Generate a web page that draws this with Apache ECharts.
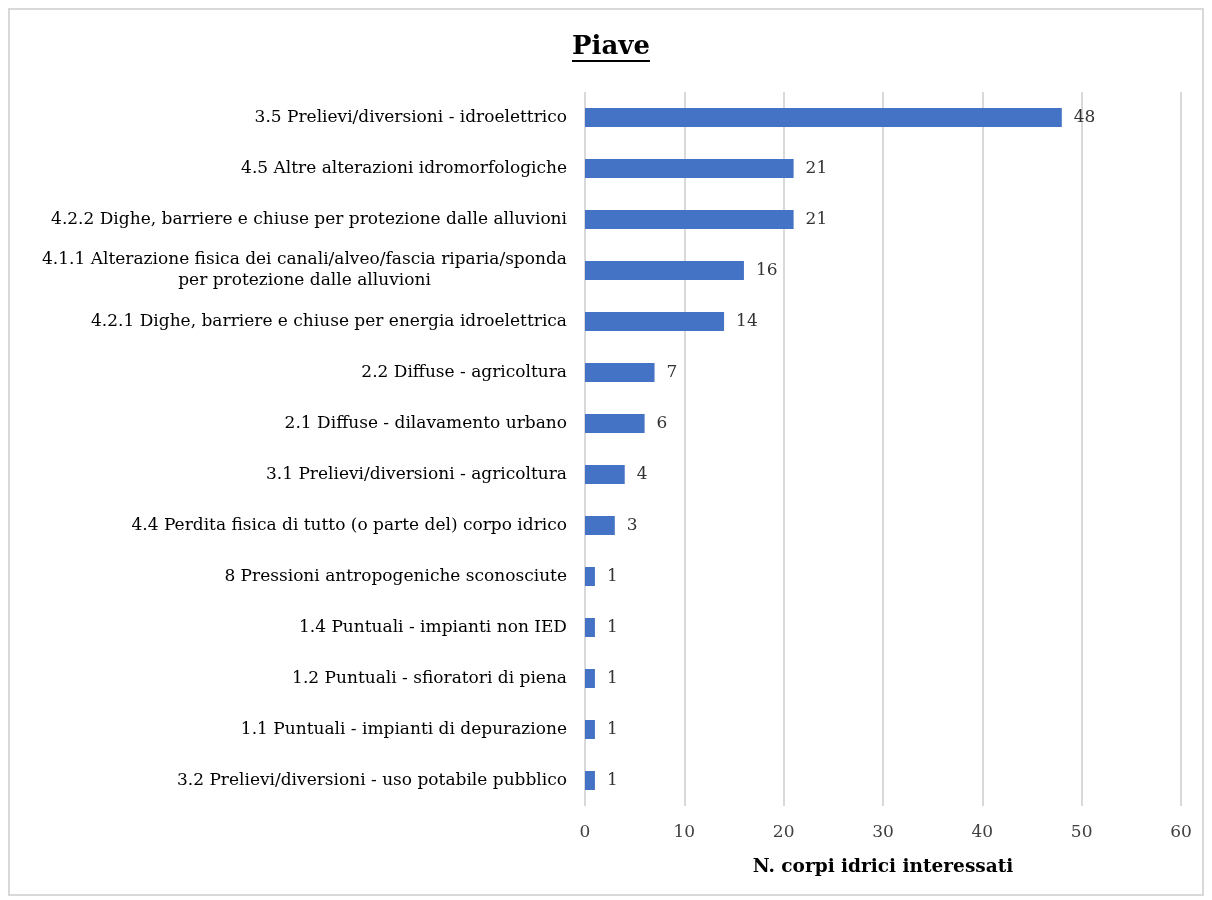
<!DOCTYPE html>
<html>
<head>
<meta charset="utf-8">
<script src="https://cdn.jsdelivr.net/npm/echarts@6/dist/echarts.min.js"></script>
<style>
  html, body { margin: 0; padding: 0; background: #ffffff; }
  #chart { width: 1212px; height: 900px; }
</style>
</head>
<body>
<div id="chart"></div>
<script>
// Pressures on the Piave water bodies (top to bottom as listed)
const categories = [
  '3.5 Prelievi/diversioni - idroelettrico',
  '4.5 Altre alterazioni idromorfologiche',
  '4.2.2 Dighe, barriere e chiuse per protezione dalle alluvioni',
  '4.1.1 Alterazione fisica dei canali/alveo/fascia riparia/sponda\nper protezione dalle alluvioni',
  '4.2.1 Dighe, barriere e chiuse per energia idroelettrica',
  '2.2 Diffuse - agricoltura',
  '2.1 Diffuse - dilavamento urbano',
  '3.1 Prelievi/diversioni - agricoltura',
  '4.4 Perdita fisica di tutto (o parte del) corpo idrico',
  '8 Pressioni antropogeniche sconosciute',
  '1.4 Puntuali - impianti non IED',
  '1.2 Puntuali - sfioratori di piena',
  '1.1 Puntuali - impianti di depurazione',
  '3.2 Prelievi/diversioni - uso potabile pubblico'
];
const counts = [48, 21, 21, 16, 14, 7, 6, 4, 3, 1, 1, 1, 1, 1];
const xTicks = [0, 10, 20, 30, 40, 50, 60];
const chartTitle = 'Piave';
const xAxisTitle = 'N. corpi idrici interessati';

const FONT = 'DejaVu Serif';
const LABEL_SIZE = 17;
const TITLE_SIZE = 26;
const CHART_W = 1212;

// measure text width (used to centre wrapped label lines and size the title underline)
const measureCtx = document.createElement('canvas').getContext('2d');
function textWidth(s, size, weight) {
  measureCtx.font = (weight || 'normal') + ' ' + size + 'px "' + FONT + '"';
  return Math.ceil(measureCtx.measureText(s).width);
}

const titleW = textWidth(chartTitle, TITLE_SIZE, 'bold');
const titleCx = CHART_W / 2 + 5;
const wrapW = textWidth(categories[3].split('\n')[0], LABEL_SIZE);

const chart = echarts.init(document.getElementById('chart'));

chart.setOption({
  backgroundColor: '#ffffff',
  animation: false,
  title: {
    text: chartTitle,
    left: titleCx - titleW / 2,
    top: 34,
    padding: 0,
    textStyle: { fontFamily: FONT, fontSize: TITLE_SIZE, fontWeight: 'bold', color: '#000000' }
  },
  graphic: [
    { type: 'rect', shape: { x: 9, y: 9, width: 1194, height: 886 },
      style: { fill: 'none', stroke: '#d9d9d9', lineWidth: 2 }, silent: true },
    { type: 'rect', shape: { x: titleCx - titleW / 2, y: 60, width: titleW, height: 2 },
      style: { fill: '#000000' }, silent: true }
  ],
  grid: { left: 585, right: 31, top: 92, bottom: 94, containLabel: false },
  xAxis: {
    type: 'value',
    min: xTicks[0],
    max: xTicks[xTicks.length - 1],
    interval: xTicks[1] - xTicks[0],
    name: xAxisTitle,
    nameLocation: 'middle',
    nameGap: 52,
    nameTextStyle: { fontFamily: FONT, fontSize: 18.5, fontWeight: 'bold', color: '#000000' },
    axisLine: { show: false },
    axisTick: { show: false },
    axisLabel: { fontFamily: FONT, fontSize: LABEL_SIZE, color: '#404040', margin: 18 },
    splitLine: { show: true, lineStyle: { color: '#d9d9d9', width: 2 } }
  },
  yAxis: {
    type: 'category',
    inverse: true,
    data: categories,
    axisLine: { show: false },
    axisTick: { show: false },
    axisLabel: {
      fontFamily: FONT, fontSize: LABEL_SIZE, color: '#000000', margin: 18, lineHeight: 21,
      formatter: function (v) {
        const lines = v.split('\n');
        if (lines.length === 1) return '{a|' + v + '}';
        return lines.map(function (l) { return '{c|' + l + '}'; }).join('\n');
      },
      rich: {
        a: { fontFamily: FONT, fontSize: LABEL_SIZE, color: '#000000' },
        c: { fontFamily: FONT, fontSize: LABEL_SIZE, color: '#000000', lineHeight: 21,
             width: wrapW, align: 'center' }
      }
    }
  },
  series: [{
    type: 'bar',
    data: counts,
    barWidth: 19,
    itemStyle: { color: '#4472c4' },
    label: {
      show: true,
      position: 'right',
      distance: 12,
      fontFamily: FONT,
      fontSize: LABEL_SIZE,
      color: '#333333'
    }
  }]
});
</script>
</body>
</html>
